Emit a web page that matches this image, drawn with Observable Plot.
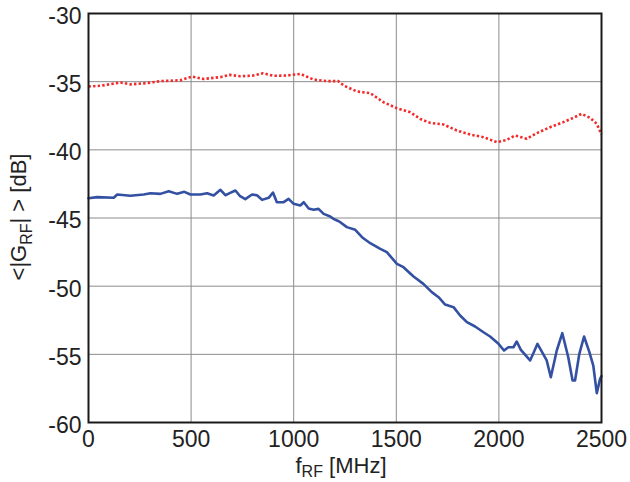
<!DOCTYPE html>
<html>
<head>
<meta charset="utf-8">
<script src="https://cdn.jsdelivr.net/npm/d3@7"></script>
<script src="https://cdn.jsdelivr.net/npm/@observablehq/plot@0.6"></script>
<style>
  html, body { margin: 0; padding: 0; background: #fff; }
  svg { display: block; }
</style>
</head>
<body>
<div id="chart"></div>
<script>
const redFreq = [0, 60, 156, 204, 286, 350, 448, 505, 560, 643, 686, 740, 803, 850, 901, 967, 1032, 1096, 1162, 1217, 1243, 1308, 1373, 1437, 1503, 1568, 1616, 1665, 1730, 1795, 1860, 1925, 1990, 2038, 2079, 2136, 2184, 2249, 2314, 2363, 2403, 2444, 2477, 2500];
const redGain = [-35.35, -35.3, -35.06, -35.2, -35.1, -34.96, -34.9, -34.62, -34.8, -34.67, -34.5, -34.6, -34.55, -34.38, -34.57, -34.55, -34.43, -34.84, -34.96, -34.96, -35.28, -35.72, -35.84, -36.5, -36.95, -37.24, -37.73, -38.02, -38.14, -38.58, -38.88, -39.07, -39.44, -39.27, -38.95, -39.19, -38.78, -38.34, -37.97, -37.65, -37.36, -37.65, -38.09, -38.88];

const blueFreq = [0, 42, 123, 140, 204, 269, 302, 350, 391, 432, 467, 497, 545, 578, 610, 643, 667, 688, 716, 737, 764, 797, 821, 846, 878, 899, 918, 951, 975, 1000, 1032, 1049, 1073, 1097, 1121, 1146, 1178, 1194, 1211, 1227, 1259, 1300, 1333, 1373, 1422, 1454, 1503, 1535, 1584, 1632, 1673, 1706, 1738, 1779, 1811, 1844, 1884, 1925, 1957, 1998, 2025, 2046, 2071, 2087, 2107, 2152, 2168, 2188, 2233, 2253, 2282, 2309, 2338, 2359, 2371, 2392, 2415, 2441, 2460, 2477, 2493, 2500];
const blueGain = [-43.55, -43.47, -43.52, -43.28, -43.37, -43.28, -43.18, -43.23, -43.03, -43.23, -43.08, -43.28, -43.28, -43.18, -43.35, -42.93, -43.33, -43.18, -42.98, -43.37, -43.62, -43.28, -43.33, -43.67, -43.52, -43.13, -43.84, -43.84, -43.6, -43.96, -44.08, -43.84, -44.3, -44.4, -44.33, -44.7, -44.89, -45.06, -45.18, -45.31, -45.67, -45.87, -46.41, -46.85, -47.26, -47.51, -48.36, -48.61, -49.29, -49.83, -50.44, -50.81, -51.35, -51.54, -52.15, -52.64, -52.96, -53.38, -53.69, -54.23, -54.72, -54.48, -54.48, -54.06, -54.67, -55.45, -54.92, -54.23, -55.45, -56.68, -54.72, -53.45, -55.21, -56.92, -56.92, -54.96, -53.69, -54.84, -55.82, -57.85, -56.8, -56.6];

const xTicks = [0, 500, 1000, 1500, 2000, 2500];
const yTicks = [-60, -55, -50, -45, -40, -35, -30];

const red = redFreq.map((f, i) => ({f, g: redGain[i]}));
const blue = blueFreq.map((f, i) => ({f, g: blueGain[i]}));

const font = "'Liberation Sans', Arial, Helvetica, sans-serif";

const svg = Plot.plot({
  width: 630,
  height: 482,
  marginLeft: 88,
  marginRight: 29,
  marginTop: 13,
  marginBottom: 60,
  style: {fontFamily: font, fontSize: "23px", color: "#222", background: "#fff", overflow: "visible"},
  x: {domain: [0, 2500]},
  y: {domain: [-60, -30]},
  marks: [
    Plot.gridX(xTicks, {stroke: "#8c8c8c", strokeOpacity: 1, strokeWidth: 1}),
    Plot.gridY(yTicks, {stroke: "#8c8c8c", strokeOpacity: 1, strokeWidth: 1}),
    Plot.axisX(xTicks, {tickSize: 0, tickPadding: 8, fontSize: 23, tickFormat: d => String(d), label: null}),
    Plot.axisY(yTicks, {tickSize: 0, tickPadding: 7, dy: 3, fontSize: 23, tickFormat: d => String(d), label: null}),
    Plot.line(red, {x: "f", y: "g", stroke: "#f42a2a", strokeWidth: 2.6, strokeDasharray: "2.4,2.2", strokeLinecap: "butt"}),
    Plot.line(blue, {x: "f", y: "g", stroke: "#3350a2", strokeWidth: 2.6}),
    Plot.frame({stroke: "#1a1a1a", strokeWidth: 2})
  ]
});

const s = d3.select(svg);
// x label with subscript
const xl = s.append("text")
  .attr("x", 341).attr("y", 473)
  .attr("text-anchor", "middle")
  .attr("font-family", font).attr("font-size", 22).attr("fill", "#222");
xl.append("tspan").text("f");
xl.append("tspan").attr("font-size", 16).attr("dy", 4).text("RF");
xl.append("tspan").attr("dy", -4).text(" [MHz]");

// y label with subscript
const yl = s.append("text")
  .attr("transform", "translate(26,217) rotate(-90)")
  .attr("text-anchor", "middle")
  .attr("font-family", font).attr("font-size", 22).attr("fill", "#222");
yl.append("tspan").text("<|G");
yl.append("tspan").attr("font-size", 16).attr("dy", 6).text("RF");
yl.append("tspan").attr("dy", -6).text("| > [dB]");

document.getElementById("chart").appendChild(svg);
</script>
</body>
</html>
